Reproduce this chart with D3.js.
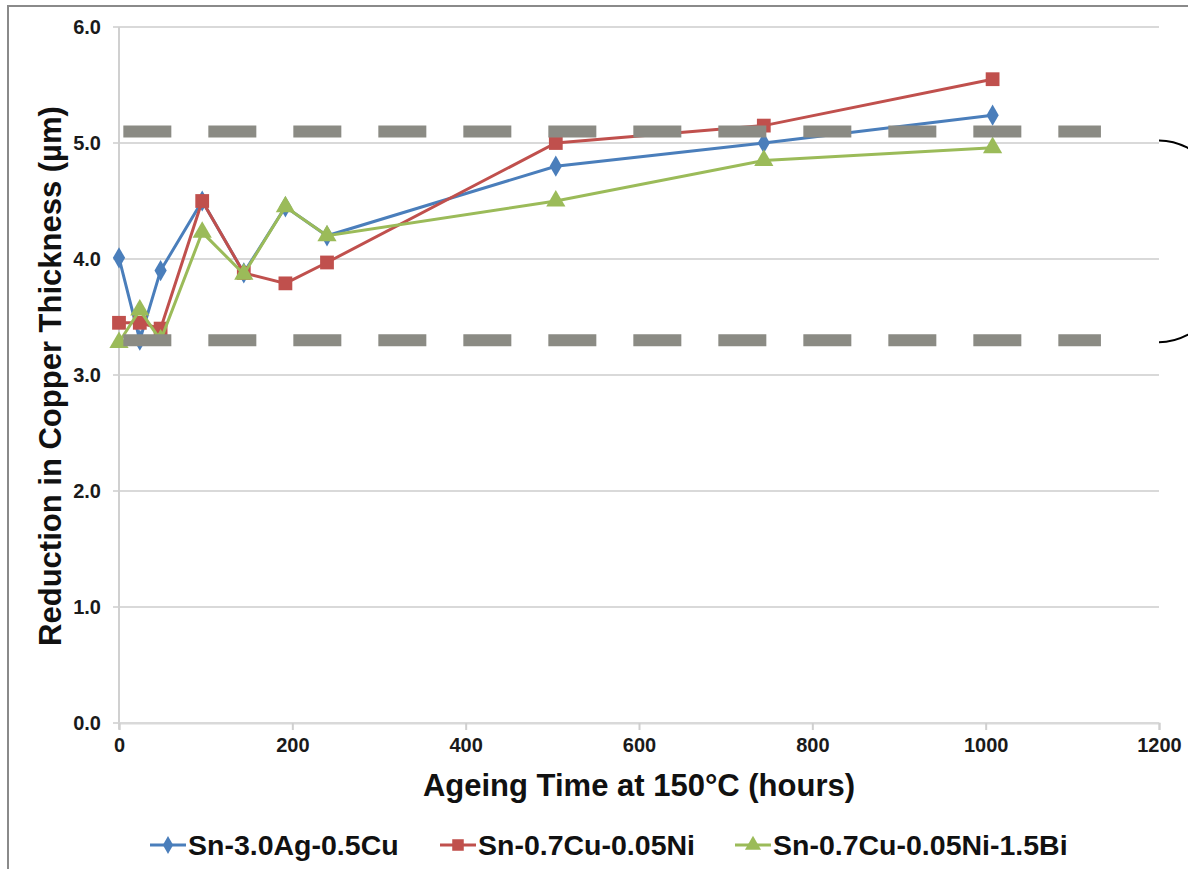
<!DOCTYPE html>
<html>
<head>
<meta charset="utf-8">
<script src="https://cdn.jsdelivr.net/npm/d3@7"></script>
<style>
  body { margin: 0; background: #fff; }
  svg { font-family: "Liberation Sans", Arial, sans-serif; }
</style>
</head>
<body>
<div id="chart"></div>
<script>
// ageing hours and thickness reduction (um)
var hours = [0, 24, 48, 96, 144, 192, 240, 504, 744, 1008];
var sac305 = [4.01, 3.3, 3.9, 4.5, 3.88, 4.45, 4.2, 4.8, 5.0, 5.24];
var snCuNi = [3.45, 3.45, 3.4, 4.5, 3.88, 3.79, 3.97, 5.0, 5.15, 5.55];
var snCuNiBi = [3.28, 3.56, 3.3, 4.23, 3.87, 4.45, 4.2, 4.5, 4.85, 4.96];
var seriesNames = ["Sn-3.0Ag-0.5Cu", "Sn-0.7Cu-0.05Ni", "Sn-0.7Cu-0.05Ni-1.5Bi"];
var seriesColors = ["#4a7ebb", "#c0504d", "#9bbb59"];
var xTicks = [0, 200, 400, 600, 800, 1000, 1200];
var yTicks = [0, 1, 2, 3, 4, 5, 6];
// band of dashed guide lines
var bandLevels = [5.1, 3.3];
var bandRange = [5, 1133];

var width = 1188, height = 869;
var margin = { left: 119, right: 29, top: 27, bottom: 146 };

var svg = d3.select("#chart").append("svg")
  .attr("width", width)
  .attr("height", height);

// outer frame
svg.append("rect")
  .attr("x", 8).attr("y", 6)
  .attr("width", width + 20).attr("height", height + 20)
  .attr("fill", "none")
  .attr("stroke", "#8a8a8a")
  .attr("stroke-width", 2);

var x = d3.scaleLinear().domain([0, 1200]).range([margin.left, width - margin.right]);
var y = d3.scaleLinear().domain([0, 6]).range([height - margin.bottom, margin.top]);

// horizontal grid
svg.append("g")
  .selectAll("line")
  .data(yTicks)
  .enter()
  .append("line")
  .attr("x1", x(0) - 6)
  .attr("x2", x(1200))
  .attr("y1", function (d) { return y(d); })
  .attr("y2", function (d) { return y(d); })
  .attr("stroke", "#d9d9d9")
  .attr("stroke-width", 2);

// y axis line
svg.append("line")
  .attr("x1", x(0)).attr("x2", x(0))
  .attr("y1", y(6)).attr("y2", y(0) + 6)
  .attr("stroke", "#d0d0d0")
  .attr("stroke-width", 2);

// x axis
var xAxis = svg.append("g")
  .attr("transform", "translate(0," + y(0) + ")")
  .call(d3.axisBottom(x).tickValues(xTicks).tickSize(7).tickPadding(8).tickFormat(d3.format("d")));
xAxis.select(".domain").attr("stroke", "#d9d9d9").attr("stroke-width", 2);
xAxis.selectAll(".tick line").attr("stroke", "#cfcfcf").attr("stroke-width", 2);
xAxis.selectAll("text")
  .style("font-size", "20px")
  .style("font-weight", "bold")
  .attr("fill", "#1a1a1a");

// y axis labels
var yAxis = svg.append("g")
  .attr("transform", "translate(" + x(0) + ",0)")
  .call(d3.axisLeft(y).tickValues(yTicks).tickSize(0).tickPadding(18).tickFormat(d3.format(".1f")));
yAxis.select(".domain").remove();
yAxis.selectAll("text")
  .style("font-size", "20px")
  .style("font-weight", "bold")
  .attr("fill", "#1a1a1a");

// axis titles
svg.append("text")
  .attr("x", (x(0) + x(1200)) / 2)
  .attr("y", 796)
  .attr("text-anchor", "middle")
  .style("font-size", "31px")
  .style("font-weight", "bold")
  .attr("fill", "#111")
  .text("Ageing Time at 150°C (hours)");

svg.append("text")
  .attr("transform", "translate(61," + 376 + ") rotate(-90)")
  .attr("text-anchor", "middle")
  .style("font-size", "31px")
  .style("font-weight", "bold")
  .attr("fill", "#111")
  .text("Reduction in Copper Thickness (µm)");

var allSeries = [sac305, snCuNi, snCuNiBi];
var symbols = [d3.symbolDiamond, d3.symbolSquare, d3.symbolTriangle];
var symSizes = [130, 190, 160];

var line = d3.line()
  .x(function (d) { return x(d[0]); })
  .y(function (d) { return y(d[1]); });

allSeries.forEach(function (vals, i) {
  var pts = hours.map(function (h, j) { return [h, vals[j]]; });
  svg.append("path")
    .datum(pts)
    .attr("d", line)
    .attr("fill", "none")
    .attr("stroke", seriesColors[i])
    .attr("stroke-width", 3);
  svg.selectAll(".pt" + i)
    .data(pts)
    .enter()
    .append("path")
    .attr("class", "pt" + i)
    .attr("transform", function (d) {
      return "translate(" + x(d[0]) + "," + y(d[1]) + ")";
    })
    .attr("d", d3.symbol().type(symbols[i]).size(symSizes[i]))
    .attr("fill", seriesColors[i]);
});

// dashed guide lines
svg.selectAll(".band")
  .data(bandLevels)
  .enter()
  .append("line")
  .attr("class", "band")
  .attr("x1", x(bandRange[0]))
  .attr("x2", x(bandRange[1]))
  .attr("y1", function (d) { return y(d); })
  .attr("y2", function (d) { return y(d); })
  .attr("stroke", "#8b8b84")
  .attr("stroke-width", 12)
  .style("stroke-dasharray", "48,37");

// bracket on the right
var bTop = y(bandLevels[0]) + 9, bBot = y(bandLevels[1]) + 2;
svg.append("path")
  .attr("d", "M" + x(1200) + "," + bTop +
    " A76," + (bBot - bTop) / 2 + " 0 0 1 " + x(1200) + "," + bBot)
  .attr("fill", "none")
  .attr("stroke", "#000")
  .attr("stroke-width", 2);

// legend
var legendX = [150, 440, 735];
var legend = svg.selectAll(".legend")
  .data(seriesNames)
  .enter()
  .append("g")
  .attr("class", "legend")
  .attr("transform", function (d, i) { return "translate(" + legendX[i] + ",845)"; });
legend.append("line")
  .attr("x1", 0).attr("x2", 36)
  .attr("stroke", function (d, i) { return seriesColors[i]; })
  .attr("stroke-width", 3);
legend.append("path")
  .attr("transform", "translate(18,0)")
  .attr("d", function (d, i) { return d3.symbol().type(symbols[i]).size(symSizes[i] * 0.7)(); })
  .attr("fill", function (d, i) { return seriesColors[i]; });
legend.append("text")
  .attr("x", 38)
  .attr("y", 10)
  .style("font-size", "28.5px")
  .style("font-weight", "bold")
  .attr("fill", "#111")
  .text(function (d) { return d; });
</script>
</body>
</html>
